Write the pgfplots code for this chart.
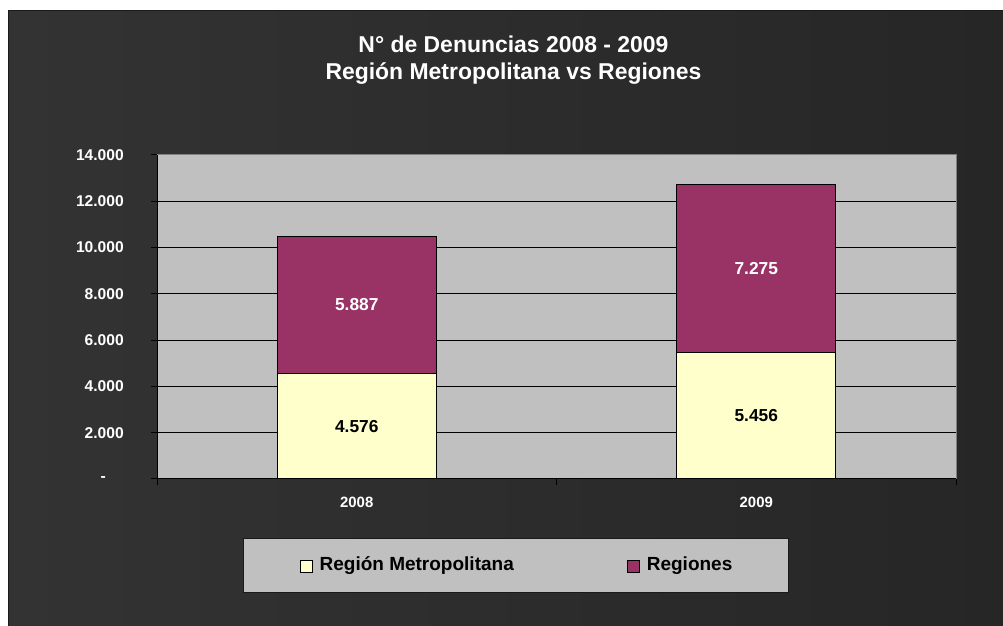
\documentclass[border=0pt]{standalone}
\usepackage{fontspec}
\setmainfont{Liberation Sans}
\usepackage{pgfplots}
\pgfplotsset{compat=1.18}
\usepackage{pgfplotstable}
\definecolor{plotgray}{HTML}{C0C0C0}
\definecolor{metroyellow}{HTML}{FFFFCC}
\definecolor{regmaroon}{HTML}{993366}
\definecolor{bgleft}{HTML}{333333}
\definecolor{bgright}{HTML}{262626}
\definecolor{framegray}{HTML}{808080}
\definecolor{legborder}{HTML}{1A1A1A}

\pgfplotsset{sqlegend/.style={legend image code/.code={\draw[##1, draw=black, line width=0.75pt] (0pt,-4.9pt) rectangle (9pt,4.1pt);}}}

\pgfplotstableread{
x v l
0 4576 4.576
1 5456 5.456
}\metro
\pgfplotstableread{
x v l
0 5887 5.887
1 7275 7.275
}\regiones

\begin{document}
\begin{tikzpicture}
\path[use as bounding box] (0,0) rectangle (752.25pt,468.75pt);
\fill[white] (0,0) rectangle (752.25pt,468.75pt);
\shade[left color=bgleft, right color=bgright] (6pt,0) rectangle (752.25pt,460.9pt);
\draw[legborder, line width=0.75pt] (6pt,-1pt) -- (6pt,460.9pt) -- (753pt,460.9pt);

\node[anchor=base, text=white, font=\bfseries\fontsize{17.2}{20}\selectfont] at (385.1pt,429.5pt) {N° de Denuncias 2008 - 2009};
\node[anchor=base, text=white, font=\bfseries\fontsize{17.2}{20}\selectfont] at (385.1pt,409.3pt) {Región Metropolitana vs Regiones};

\begin{axis}[
  at={(117.75pt,109.5pt)}, anchor=south west,
  scale only axis, width=599.25pt, height=243pt,
  ybar stacked, bar width=0.398,
  xmin=-0.5, xmax=1.5, ymin=0, ymax=14000,
  scaled y ticks=false,
  axis background/.style={fill=plotgray, draw=framegray, line width=0.75pt},
  axis x line*=bottom, axis y line*=left,
  axis line style={-, black, line width=0.75pt},
  tick align=outside, major tick length=4.5pt,
  tick style={black, line width=0.75pt},
  /pgf/number format/assume math mode=true,
  xtick={-0.5,0.5,1.5}, xticklabels={},
  extra x ticks={0,1}, extra x tick labels={2008,2009},
  extra x tick style={major tick length=0pt, grid=none,
     xticklabel style={text=white, font=\bfseries\fontsize{11.2}{13}\selectfont, anchor=north, inner sep=0pt, yshift=-13.5pt}},
  ytick={0,2000,4000,6000,8000,10000,12000},
  yticklabels={{\makebox[17.25pt][l]{-}},2.000,4.000,6.000,8.000,10.000,12.000},
  extra y ticks={14000}, extra y tick labels={14.000},
  extra y tick style={grid=none},
  yticklabel style={text=white, font=\bfseries\fontsize{11.7}{13}\selectfont, anchor=east, inner sep=0pt, xshift=-20.25pt},
  ymajorgrids=true,
  major grid style={black, line width=0.75pt},
  legend columns=2,
  legend style={at={(axis description cs:0.4493,-0.267)}, anchor=center,
     fill=plotgray, draw=legborder, line width=0.75pt,
     inner xsep=42pt, inner ysep=13.6pt,
     /tikz/every odd column/.append style={column sep=5.25pt},
     /tikz/every even column/.append style={column sep=84.75pt},
     nodes={inner sep=0pt, text height=10.5pt, text depth=3pt, font=\bfseries\fontsize{14.25}{16}\selectfont}},
]
\addplot[fill=metroyellow, draw=black, line width=0.75pt,
  nodes near coords, point meta=explicit symbolic,
  every node near coord/.append style={anchor=center, text=black, font=\bfseries\fontsize{13}{15}\selectfont},
  sqlegend]
  table[x=x, y=v, meta=l] {\metro};
\addlegendentry{Región Metropolitana}
\addplot[fill=regmaroon, draw=black, line width=0.75pt,
  nodes near coords, point meta=explicit symbolic,
  every node near coord/.append style={anchor=center, text=white, font=\bfseries\fontsize{13}{15}\selectfont},
  sqlegend]
  table[x=x, y=v, meta=l] {\regiones};
\addlegendentry{Regiones}
\end{axis}
\end{tikzpicture}
\end{document}
